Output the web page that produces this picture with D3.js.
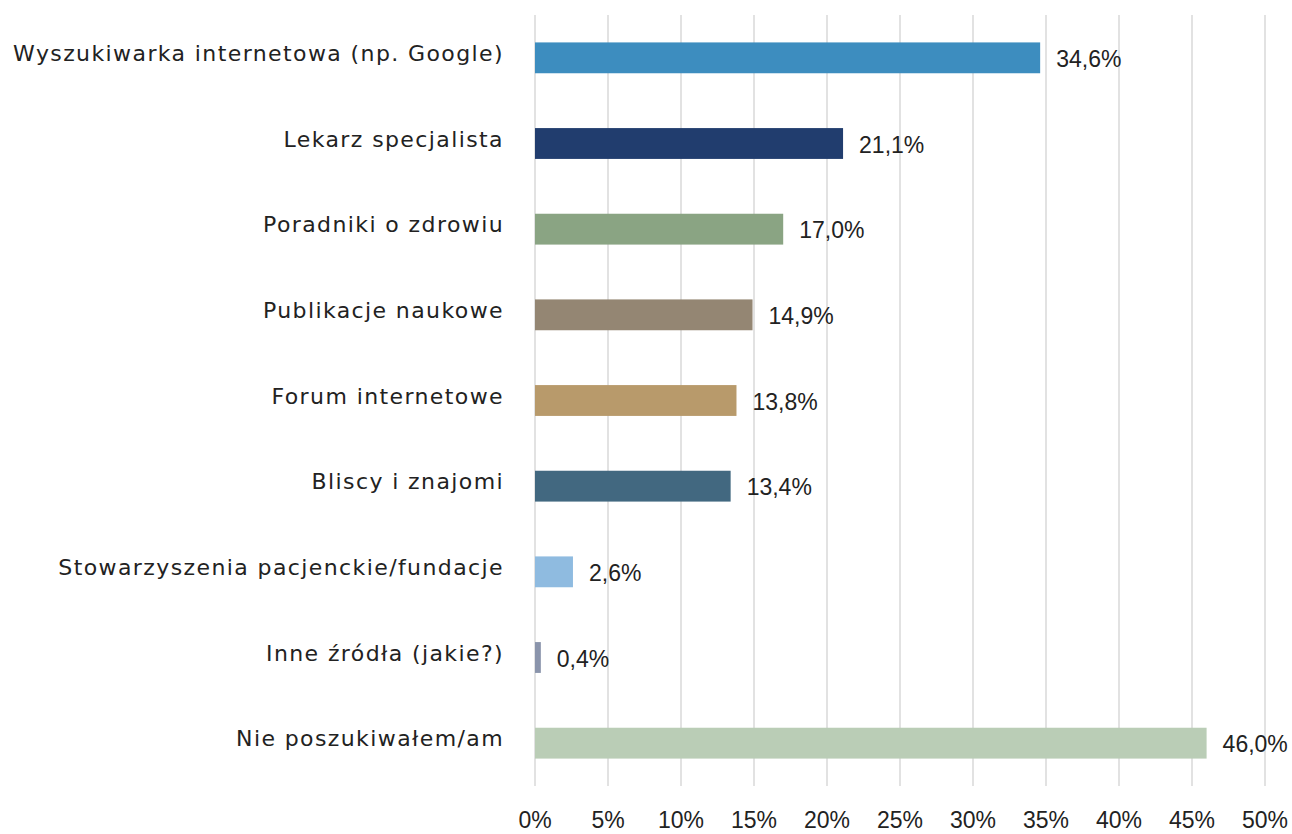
<!DOCTYPE html>
<meta charset="utf-8">
<script src="https://d3js.org/d3.v7.min.js"></script>
<style>
  body { margin: 0; background: #fff; }
  text { fill: #222; }
  .cat { font-family: "DejaVu Sans", sans-serif; font-size: 22px; letter-spacing: 1.4px; }
  .num { font-family: "Liberation Sans", Arial, sans-serif; font-size: 23px; }
</style>
<svg id="chart" width="1292" height="834"></svg>
<script>
// data
var categories = [
  "Wyszukiwarka internetowa (np. Google)",
  "Lekarz specjalista",
  "Poradniki o zdrowiu",
  "Publikacje naukowe",
  "Forum internetowe",
  "Bliscy i znajomi",
  "Stowarzyszenia pacjenckie/fundacje",
  "Inne źródła (jakie?)",
  "Nie poszukiwałem/am"
];
var values = [34.6, 21.1, 17.0, 14.9, 13.8, 13.4, 2.6, 0.4, 46.0];
var colors = ["#3d8dbf", "#213d6e", "#8aa483", "#948673", "#b89a6b",
              "#426880", "#8fbbe0", "#8a94ab", "#bacdb6"];
var ticks = [0, 5, 10, 15, 20, 25, 30, 35, 40, 45, 50];

var svg = d3.select("#chart");

var x = d3.scaleLinear().domain([0, 50]).range([535, 1265]);
var y = d3.scaleBand().domain(categories).range([15, 786]).paddingInner(0.64).paddingOuter(0.32);

// gridlines
svg.append("g")
  .selectAll("line")
  .data(ticks)
  .enter()
  .append("line")
    .attr("x1", function (d) { return x(d); })
    .attr("x2", function (d) { return x(d); })
    .attr("y1", 15)
    .attr("y2", 786)
    .attr("stroke", "#d9d9d9")
    .attr("stroke-width", 1.5);

// tick labels
svg.append("g")
  .selectAll("text")
  .data(ticks)
  .enter()
  .append("text")
    .attr("class", "num")
    .attr("x", function (d) { return x(d); })
    .attr("y", 828)
    .attr("text-anchor", "middle")
    .text(function (d) { return d + "%"; });

// bars
svg.append("g")
  .selectAll("rect")
  .data(categories)
  .enter()
  .append("rect")
    .attr("x", x(0))
    .attr("y", function (d) { return y(d); })
    .attr("width", function (d, i) { return x(values[i]) - x(0); })
    .attr("height", y.bandwidth())
    .attr("fill", function (d, i) { return colors[i]; });

// value labels
svg.append("g")
  .selectAll("text")
  .data(categories)
  .enter()
  .append("text")
    .attr("class", "num")
    .attr("x", function (d, i) { return x(values[i]) + 16; })
    .attr("y", function (d) { return y(d) + y.bandwidth() / 2 + 9; })
    .text(function (d, i) { return values[i].toFixed(1).replace(".", ",") + "%"; });

// category labels
svg.append("g")
  .selectAll("text")
  .data(categories)
  .enter()
  .append("text")
    .attr("class", "cat")
    .attr("x", 504)
    .attr("y", function (d) { return y(d) + y.bandwidth() / 2 + 3; })
    .attr("text-anchor", "end")
    .text(function (d) { return d; });
</script>
